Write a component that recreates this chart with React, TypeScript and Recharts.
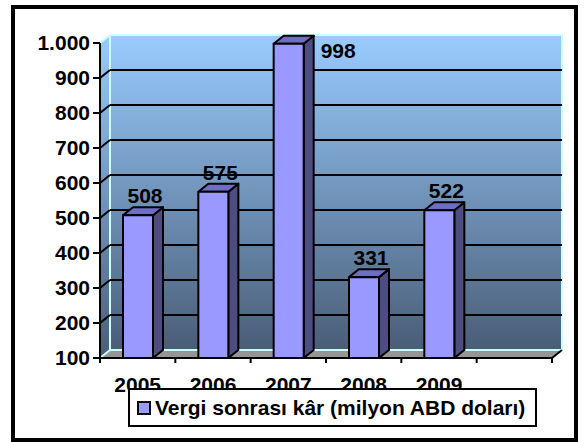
import React from 'react';
import { BarChart, Bar, XAxis, YAxis, ReferenceArea, ReferenceLine, LabelList, Legend } from 'recharts';

const CATEGORIES = ['2005', '2006', '2007', '2008', '2009', ''];
const PROFIT = [508, 575, 998, 331, 522, null];
const Y_TICKS = [100, 200, 300, 400, 500, 600, 700, 800, 900, 1000];
const GRID_VALUES = [200, 300, 400, 500, 600, 700, 800, 900];
const SERIES_NAME = 'Vergi sonrası kâr (milyon ABD doları)';

const data = CATEGORIES.map((year, i) => ({ year, profit: PROFIT[i] }));

const FONT = 'Arial, "Liberation Sans", Helvetica, sans-serif';
const DX = 10;
const DY = 8;
const EDGE = '#ccffff';

const fmt = (v: number) => String(v).replace(/\B(?=(\d{3})+(?!\d))/g, '.');

// back wall, left wall and floor of the 3d box
const Walls = (props: any) => {
  const { x, y, width: w, height: h } = props;
  return (
    <g>
      <defs>
        <linearGradient id="wallGrad" x1="0" y1="0" x2="0" y2="1">
          <stop offset="0%" stopColor="#99ccff" />
          <stop offset="100%" stopColor="#4a5d77" />
        </linearGradient>
      </defs>
      <rect x={x + DX} y={y - DY} width={w} height={h} fill="url(#wallGrad)" />
      <polygon
        points={`${x},${y} ${x + DX},${y - DY} ${x + DX},${y + h - DY} ${x},${y + h}`}
        fill="url(#wallGrad)"
      />
      <polygon
        points={`${x},${y + h} ${x + DX},${y + h - DY} ${x + w + DX},${y + h - DY} ${x + w},${y + h}`}
        fill="#969696"
      />
      <polyline
        points={`${x},${y} ${x + DX},${y - DY} ${x + w + DX},${y - DY} ${x + w + DX},${y + h - DY} ${x + DX},${y + h - DY} ${x},${y + h}`}
        fill="none"
        stroke={EDGE}
        strokeWidth={2}
      />
      <line x1={x + DX} y1={y - DY} x2={x + DX} y2={y + h - DY} stroke={EDGE} strokeWidth={2} />
      <line x1={x + w} y1={y + h} x2={x + w + DX} y2={y + h - DY} stroke="#000" strokeWidth={2} />
    </g>
  );
};

const GridShape = (props: any) => {
  const { x1, y1, x2, y2 } = props;
  return (
    <g>
      <line x1={x1} y1={y1} x2={x1 + DX} y2={y1 - DY} stroke="#000" strokeWidth={2} />
      <line x1={x1 + DX} y1={y1 - DY} x2={x2 + DX} y2={y2 - DY} stroke="#000" strokeWidth={2} />
    </g>
  );
};

const Bar3D = (props: any) => {
  const { x, y, width: w, height: h } = props;
  if (!h || h <= 0) return null;
  return (
    <g stroke="#000" strokeWidth={2} strokeLinejoin="round">
      <polygon
        points={`${x + w},${y} ${x + w + DX},${y - DY} ${x + w + DX},${y + h - DY} ${x + w},${y + h}`}
        fill="#4d4d80"
      />
      <polygon
        points={`${x},${y} ${x + DX},${y - DY} ${x + w + DX},${y - DY} ${x + w},${y}`}
        fill="#6e6ec4"
      />
      <rect x={x} y={y} width={w} height={h} fill="#9999ff" />
    </g>
  );
};

const ValueLabel = (props: any) => {
  const { x, y, width: w, value } = props;
  if (value == null) return null;
  const style = { fontFamily: FONT, fontSize: 21, fontWeight: 700 };
  if (y - DY - 26 < 30) {
    return (
      <text x={x + w + DX + 7} y={y + 7} dominantBaseline="central" fill="#000" style={style}>
        {value}
      </text>
    );
  }
  return (
    <text x={x + w / 2 + DX / 2 + 2} y={y - DY - 4} textAnchor="middle" fill="#000" style={style}>
      {value}
    </text>
  );
};

const YearTick = (props: any) => {
  const { x, y, payload, index, width, visibleTicksCount } = props;
  const half = width / visibleTicksCount / 2;
  return (
    <g>
      <line x1={x - half} y1={y} x2={x - half} y2={y + 5} stroke="#000" strokeWidth={2} />
      {index === visibleTicksCount - 1 && (
        <line x1={x + half} y1={y} x2={x + half} y2={y + 5} stroke="#000" strokeWidth={2} />
      )}
      <text x={x} y={y + 19} dy="0.71em" textAnchor="middle" fill="#000"
        style={{ fontFamily: FONT, fontSize: 21, fontWeight: 700 }}>
        {payload.value}
      </text>
    </g>
  );
};

const LegendBox = () => (
  <div
    style={{
      boxSizing: 'border-box', width: 409, height: 39, border: '2px solid #000', background: '#fff',
      display: 'flex', alignItems: 'center', paddingLeft: 7, fontFamily: FONT, fontSize: 21, fontWeight: 700,
    }}
  >
    <span style={{ boxSizing: 'border-box', width: 14, height: 14, border: '2px solid #000', background: '#9999ff', marginRight: 4 }} />
    <span>{SERIES_NAME}</span>
  </div>
);

export default function App() {
  return (
    <div style={{ position: 'absolute', left: 0, top: 0, width: 587, height: 442, background: '#fff' }}>
      <div style={{ position: 'absolute', left: 11, top: 5, width: 567, height: 437, border: '4px solid #000', boxSizing: 'border-box' }} />
      <div style={{ position: 'absolute', left: 0, top: 0 }}>
        <BarChart width={587} height={442} data={data} margin={{ top: 43, right: 35, bottom: 54, left: 12 }}>
          <ReferenceArea y1={100} y2={1000} shape={Walls} zIndex={-200} ifOverflow="visible" />
          {GRID_VALUES.map((v) => (
            <ReferenceLine key={v} y={v} shape={GridShape} zIndex={-150} ifOverflow="visible" />
          ))}
          <XAxis
            dataKey="year"
            height={30}
            axisLine={{ stroke: '#000', strokeWidth: 2 }}
            tickLine={false}
            tickSize={0}
            tickMargin={0}
            tick={YearTick}
            interval={0}
          />
          <YAxis
            domain={[100, 1000]}
            ticks={Y_TICKS}
            width={88}
            tickFormatter={fmt}
            tickSize={7}
            tickMargin={3}
            axisLine={{ stroke: '#000', strokeWidth: 2 }}
            tickLine={{ stroke: '#000', strokeWidth: 2 }}
            tick={{ fill: '#000', fontFamily: FONT, fontSize: 21, fontWeight: 700 }}
          />
          <Bar dataKey="profit" name={SERIES_NAME} barSize={30} shape={Bar3D} isAnimationActive={false}>
            <LabelList dataKey="profit" content={ValueLabel} />
          </Bar>
          <Legend
            layout="vertical"
            align="center"
            verticalAlign="middle"
            content={LegendBox}
            wrapperStyle={{ position: 'absolute', left: 128, top: 388, width: 409, height: 39 }}
          />
        </BarChart>
      </div>
    </div>
  );
}
